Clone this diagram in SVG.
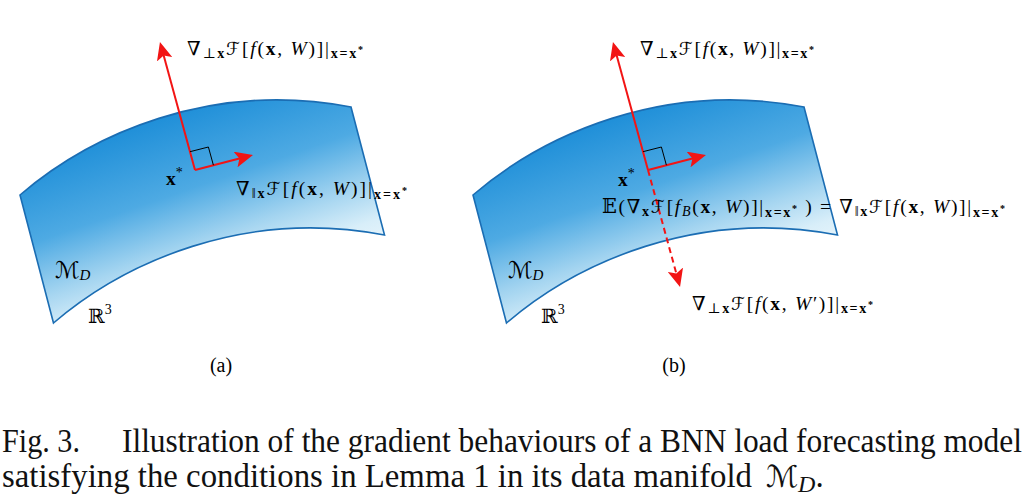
<svg xmlns="http://www.w3.org/2000/svg" width="1032" height="502" viewBox="0 0 1032 502">
<defs>
<style>
.m{font-family:"Liberation Serif","DejaVu Serif",serif;font-size:19.5px;fill:#000}
.b{font-weight:bold}
.i{font-style:italic}
.s{font-size:14px}
.ss{font-size:10px}
.scr{font-family:"DejaVu Sans",serif;font-style:italic;font-size:18px}
.cap{font-family:"Liberation Serif","DejaVu Serif",serif;font-size:33px;fill:#111}
.edge{fill:url(#grad);stroke:#1b6db3;stroke-width:1.6}
.arr{stroke:#f21414;stroke-width:2;fill:none}
.sq{stroke:#000;stroke-width:1;fill:none}
</style>
<linearGradient id="grad" gradientUnits="userSpaceOnUse" x1="200" y1="100" x2="275" y2="318">
<stop offset="0" stop-color="#1d8ed8"/>
<stop offset="0.35" stop-color="#4eaae3"/>
<stop offset="0.58" stop-color="#a3d4f0"/>
<stop offset="0.74" stop-color="#d8eef9"/>
<stop offset="1" stop-color="#ffffff"/>
</linearGradient>
<marker id="ah" viewBox="0 0 18 16" refX="8" refY="8" markerWidth="18" markerHeight="16" markerUnits="userSpaceOnUse" orient="auto">
<path d="M0,0 L18,8 L0,16 L4,8 Z" fill="#f21414"/>
</marker>
<path id="mf" d="M20,195 C90,135 210,80 351,107 L384.5,235 C243.5,208 123.5,263 53.5,323 Z"/>
</defs>
<rect width="1032" height="502" fill="#fff"/>

<g id="manifold-a">
<use href="#mf" class="edge"/>
</g>
<g id="manifold-b" transform="translate(453,0)">
<use href="#mf" class="edge"/>
</g>

<g id="connectors">
<path class="arr" d="M195,170 L162.6,51.6" marker-end="url(#ah)"/>
<path class="arr" d="M195,170 L243.3,157.5" marker-end="url(#ah)"/>
<path class="sq" d="M190,151.7 L208.4,147 L213.4,165.2"/>
<path class="arr" d="M648,170 L615.6,51.6" marker-end="url(#ah)"/>
<path class="arr" d="M648,170 L696.3,157.5" marker-end="url(#ah)"/>
<path class="arr" d="M648,170 L677.4,277.4" stroke-dasharray="6 4" marker-end="url(#ah)"/>
<path class="sq" d="M643,151.7 L661.4,147 L666.4,165.2"/>
</g>

<g id="labels-a">
<text class="m" x="187" y="55" textLength="176" lengthAdjust="spacing">∇<tspan class="s" dy="3">⊥</tspan><tspan class="s b">x</tspan><tspan class="scr" dy="-3">ℱ</tspan>[<tspan class="i">f</tspan>(<tspan class="b">x</tspan>, <tspan class="i">W</tspan>)]|<tspan class="s b" dy="3">x=x</tspan><tspan class="ss b" dy="-5">*</tspan></text>
<text class="m" x="166" y="185"><tspan class="b">x</tspan><tspan class="s" dy="-8">*</tspan></text>
<text class="m" x="236" y="195" textLength="171" lengthAdjust="spacing">∇<tspan class="s" dy="3">‖</tspan><tspan class="s b">x</tspan><tspan class="scr" dy="-3">ℱ</tspan>[<tspan class="i">f</tspan>(<tspan class="b">x</tspan>, <tspan class="i">W</tspan>)]|<tspan class="s b" dy="4">x=x</tspan><tspan class="ss b" dy="-5">*</tspan></text>
<text class="m" x="55" y="278"><tspan class="scr" style="font-size:23px">ℳ</tspan><tspan class="i" style="font-size:15px" dy="2">D</tspan></text>
<text class="m" x="88" y="323" style="font-size:20px">ℝ<tspan class="s" dy="-9">3</tspan></text>
<text class="m" x="221" y="372" text-anchor="middle" style="font-size:20px">(a)</text>
</g>

<g id="labels-b">
<text class="m" x="640" y="55" textLength="174" lengthAdjust="spacing">∇<tspan class="s" dy="3">⊥</tspan><tspan class="s b">x</tspan><tspan class="scr" dy="-3">ℱ</tspan>[<tspan class="i">f</tspan>(<tspan class="b">x</tspan>, <tspan class="i">W</tspan>)]|<tspan class="s b" dy="3">x=x</tspan><tspan class="ss b" dy="-5">*</tspan></text>
<text class="m" x="618" y="186"><tspan class="b">x</tspan><tspan class="s" dy="-8">*</tspan></text>
<text class="m" x="602" y="213" textLength="403" lengthAdjust="spacing">𝔼(∇<tspan class="s b" dy="3">x</tspan><tspan class="scr" dy="-3">ℱ</tspan>[<tspan class="i">f</tspan><tspan class="i s" dy="3">B</tspan><tspan dy="-3">(</tspan><tspan class="b">x</tspan>, <tspan class="i">W</tspan>)]|<tspan class="s b" dy="4">x=x</tspan><tspan class="ss b" dy="-5">*</tspan><tspan dy="1"> ) = ∇</tspan><tspan class="s" dy="3">‖</tspan><tspan class="s b">x</tspan><tspan class="scr" dy="-3">ℱ</tspan>[<tspan class="i">f</tspan>(<tspan class="b">x</tspan>, <tspan class="i">W</tspan>)]|<tspan class="s b" dy="4">x=x</tspan><tspan class="ss b" dy="-5">*</tspan></text>
<text class="m" x="692" y="310" textLength="181" lengthAdjust="spacing">∇<tspan class="s" dy="3">⊥</tspan><tspan class="s b">x</tspan><tspan class="scr" dy="-3">ℱ</tspan>[<tspan class="i">f</tspan>(<tspan class="b">x</tspan>, <tspan class="i">W</tspan>′)]|<tspan class="s b" dy="3">x=x</tspan><tspan class="ss b" dy="-5">*</tspan></text>
<text class="m" x="508" y="278"><tspan class="scr" style="font-size:23px">ℳ</tspan><tspan class="i" style="font-size:15px" dy="2">D</tspan></text>
<text class="m" x="541" y="323" style="font-size:20px">ℝ<tspan class="s" dy="-9">3</tspan></text>
<text class="m" x="674" y="372" text-anchor="middle" style="font-size:20px">(b)</text>
</g>

<g id="caption">
<g transform="scale(0.88,1)">
<text class="cap" x="2.3" y="452" textLength="88.6" lengthAdjust="spacingAndGlyphs">Fig. 3.</text>
<text class="cap" x="138.6" y="452" textLength="1022.7" lengthAdjust="spacingAndGlyphs">Illustration of the gradient behaviours of a BNN load forecasting model</text>
<text class="cap" x="2.3" y="487" textLength="852.3" lengthAdjust="spacingAndGlyphs">satisfying the conditions in Lemma 1 in its data manifold</text>
</g>
<text class="cap" x="766" y="487"><tspan class="scr" style="font-size:30px">ℳ</tspan><tspan class="i" style="font-size:24px" dy="5">D</tspan><tspan dy="-5">.</tspan></text>
</g>
</svg>
